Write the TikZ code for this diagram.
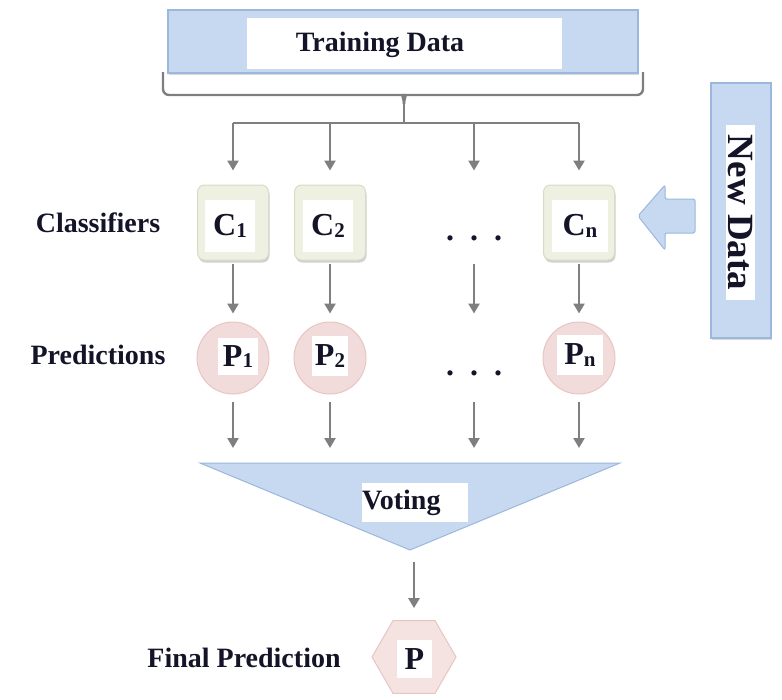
\documentclass[tikz,border=0pt]{standalone}
\usepackage{fontspec}
\setmainfont{Liberation Serif}
\usetikzlibrary{arrows.meta,shapes.geometric,shadows}
\definecolor{bluefill}{HTML}{C6D9F1}
\definecolor{blueline}{HTML}{9BB7DC}
\definecolor{greenfill}{HTML}{EEF1E2}
\definecolor{greenline}{HTML}{D8DCC4}
\definecolor{pinkfill}{HTML}{F2DCDB}
\definecolor{pinkline}{HTML}{E8C4C3}
\definecolor{arrowgray}{HTML}{7F7F7F}
\definecolor{txt}{HTML}{141428}
\newcommand\lowsub[1]{\raisebox{-1.5pt}{\fontsize{21}{21}\selectfont #1}}
\begin{document}
\begin{tikzpicture}[x=1pt,y=-1pt,
  lbl/.style={font=\fontsize{28}{32}\selectfont\bfseries, text=txt, inner sep=0pt},
  big/.style={font=\fontsize{32}{36}\selectfont\bfseries, text=txt},
  whitebox/.style={fill=white, inner sep=0pt},
  gline/.style={draw=arrowgray, line width=2.8pt},
  arr/.style={draw=arrowgray, line width=2.8pt, -{Triangle[width=11pt,length=10pt]}},
  cbox/.style={rectangle, rounded corners=7pt, fill=greenfill, draw=greenline, line width=1pt,
    minimum width=71pt, minimum height=75pt, inner sep=0pt,
    drop shadow={shadow xshift=1pt, shadow yshift=-2.5pt, opacity=0.18, fill=black}},
  pcirc/.style={circle, fill=pinkfill, draw=pinkline, line width=1pt, minimum size=72pt, inner sep=0pt},
  bluebox/.style={rectangle, fill=bluefill, draw=blueline, line width=1.2pt, inner sep=0pt,
    drop shadow={shadow xshift=0.5pt, shadow yshift=-1.5pt, opacity=0.15, fill=black}}
]
\useasboundingbox (0,0) rectangle (782,699);

% Training data
\node[bluebox, minimum width=470pt, minimum height=63pt] (td) at (403,41.5) {};
\node[whitebox, minimum width=315pt, minimum height=51pt] (tdw) at (404.5,43.5) {};
\node[lbl] (tdt) at (380,45) {Training Data};

% brace
\coordinate (bm) at (404,104);
\coordinate (bt) at (404,123);
\draw[gline, line width=2.4pt] (163,72) [rounded corners=6pt]-- (163,95) -- (397,95) [sharp corners] to[out=0,in=90] (bm);
\draw[gline, line width=2.4pt] (643,72) [rounded corners=6pt]-- (643,95) -- (411,95) [sharp corners] to[out=180,in=90] (bm);
\draw[gline, line width=2.4pt] (bm) -- (bt);

% classifiers
\node[cbox] (c1) at (233,222.5) {};
\node[cbox] (c2) at (330,222.5) {};
\node[cbox] (cn) at (579,222.5) {};
\node[whitebox, big, minimum width=50pt, minimum height=52pt] (c1t) at (230,226) {C\lowsub{1}};
\node[whitebox, big, minimum width=50pt, minimum height=52pt] (c2t) at (328,226) {C\lowsub{2}};
\node[whitebox, big, minimum width=56pt, minimum height=52pt] (cnt) at (580,226) {C\lowsub{n}};
\node[big, anchor=base, inner sep=0pt] (d1) at (474,240.5) {.\hspace{16pt}.\hspace{16pt}.};

% split line and arrows
\draw[gline] (c1 |- bt) -- (cn |- bt);
\draw[arr, shorten >=14pt] (c1 |- bt) -- (c1.north);
\draw[arr, shorten >=14pt] (c2 |- bt) -- (c2.north);
\draw[arr, shorten >=14pt] (d1 |- bt) -- (d1 |- c1.north);
\draw[arr, shorten >=14pt] (cn |- bt) -- (cn.north);

% predictions
\node[pcirc] (p1) at (233,358) {};
\node[pcirc] (p2) at (330,358) {};
\node[pcirc] (pn) at (579,358) {};
\node[whitebox, big, minimum width=40pt, minimum height=37pt] (p1t) at (238,356.5) {P\lowsub{1}};
\node[whitebox, big, minimum width=36pt, minimum height=40pt] (p2t) at (330,356) {P\lowsub{2}};
\node[whitebox, big, minimum width=46pt, minimum height=40pt] (pnt) at (580,355) {P\lowsub{n}};
\node[big, anchor=base, inner sep=0pt] (d2) at (474,375.5) {.\hspace{16pt}.\hspace{16pt}.};

\draw[arr, shorten <=3pt, shorten >=8pt] (c1.south) -- (p1.north);
\draw[arr, shorten <=3pt, shorten >=8pt] (c2.south) -- (p2.north);
\draw[arr, shorten <=3pt, shorten >=8pt] (d1 |- c1.south) -- (d1 |- p1.north);
\draw[arr, shorten <=3pt, shorten >=8pt] (cn.south) -- (pn.north);

% voting
\filldraw[fill=bluefill, draw=blueline, line width=1pt] (200,463) -- (620,463) -- (410,550) -- cycle;
\coordinate (vtop) at (410,463);
\coordinate (vbot) at (412,550);
\node[whitebox, lbl, minimum height=39pt, text width=106pt, align=left, anchor=west] (vt) at (362,502.5) {Voting};

\draw[arr, shorten <=7pt, shorten >=15pt] (p1.south) -- (p1 |- vtop);
\draw[arr, shorten <=7pt, shorten >=15pt] (p2.south) -- (p2 |- vtop);
\draw[arr, shorten <=7pt, shorten >=15pt] (d2 |- p1.south) -- (d2 |- vtop);
\draw[arr, shorten <=7pt, shorten >=15pt] (pn.south) -- (pn |- vtop);

% final prediction
\node[regular polygon, regular polygon sides=6, minimum size=84pt, inner sep=0pt,
      fill=pinkfill!80, draw=pinkline, line width=1pt] (hx) at (414,657) {};
\node[whitebox, big, minimum width=35pt, minimum height=38pt] (hxt) at (414.5,659) {P};
\draw[arr, shorten <=12pt, shorten >=12pt] (hx.north |- vbot) -- (hx.north);

% row labels
\node[lbl] (lc) at (98,223) {Classifiers};
\node[lbl] (lp) at (98,355) {Predictions};
\node[lbl] (lf) at (244,658) {Final Prediction};

% new data
\node[bluebox, minimum width=60pt, minimum height=255pt] (nd) at (741,210.5) {};
\node[whitebox, rotate=-90, font=\fontsize{37}{40}\selectfont\bfseries, text=txt,
      minimum width=175pt, minimum height=29pt] (ndt) at (740.5,212.5) {New Data};
\filldraw[fill=bluefill, draw=blueline, line width=1pt, rounded corners=2pt]
  (638,216) -- (665,185) -- (665,199) -- (695,199) -- (695,233) -- (665,233) -- (665,250) -- cycle;
\end{tikzpicture}
\end{document}
